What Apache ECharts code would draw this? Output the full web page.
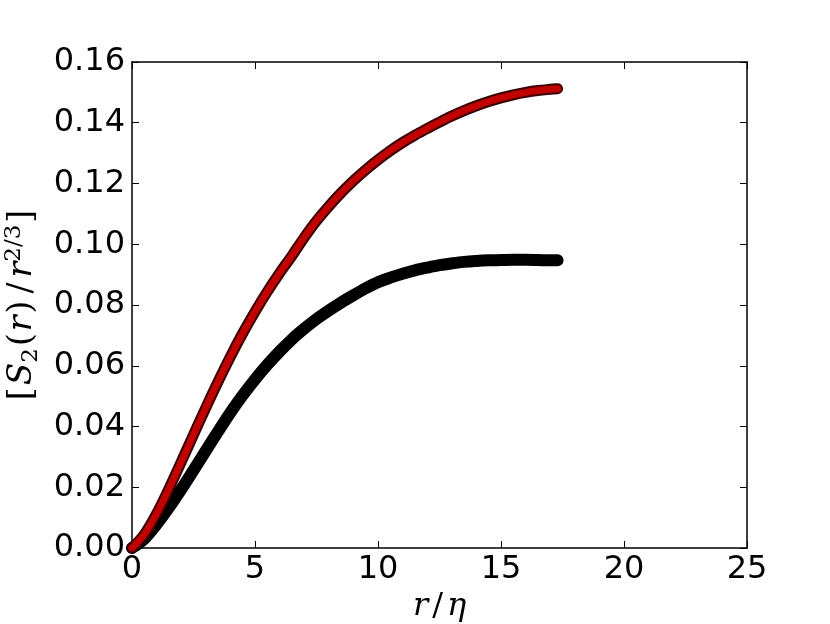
<!DOCTYPE html>
<html>
<head>
<meta charset="utf-8">
<script src="https://cdn.jsdelivr.net/npm/echarts@6/dist/echarts.min.js"></script>
<style>
  html, body { margin: 0; padding: 0; background: #fff; }
  #chart { width: 830px; height: 624px; }
</style>
</head>
<body>
<div id="chart"></div>
<script>
// r/eta values shared by both curves
var rEta = [0, 0.5, 1, 1.5, 2, 2.5, 3, 3.5, 4, 4.5, 5, 5.5, 6, 6.5, 7, 7.5, 8, 8.5,
  9, 9.5, 10, 10.5, 11, 11.5, 12, 12.5, 13, 13.5, 14, 14.5, 15, 15.5, 16, 16.5, 17, 17.3];
// red curve
var redVals = [0, 0.0045, 0.0113, 0.0195, 0.0283, 0.0373, 0.0462, 0.0548, 0.0630, 0.0707,
  0.0778, 0.0844, 0.0905, 0.0962, 0.1022, 0.1077, 0.1125, 0.1169, 0.1209, 0.1245, 0.1278,
  0.1308, 0.1335, 0.1359, 0.1381, 0.1402, 0.1422, 0.1440, 0.1456, 0.1470, 0.1482, 0.1492,
  0.1500, 0.1506, 0.1510, 0.1512];
// black curve
var blackVals = [0, 0.003, 0.0078, 0.0133, 0.0193, 0.0256, 0.0320, 0.0384, 0.0446, 0.0503,
  0.0555, 0.0603, 0.0647, 0.0687, 0.0722, 0.0754, 0.0782, 0.0808, 0.0832, 0.0855, 0.0875,
  0.0890, 0.0903, 0.0914, 0.0923, 0.0931, 0.0937, 0.0942, 0.0945, 0.0947, 0.0948, 0.0949,
  0.0949, 0.0948, 0.0947, 0.0947];

function pairs(xs, ys) {
  var out = [];
  for (var i = 0; i < xs.length; i++) out.push([xs[i], ys[i]]);
  return out;
}

var chart = echarts.init(document.getElementById('chart'));
var labelFont = { fontFamily: 'DejaVu Sans', fontSize: 32, color: '#000' };
var mathFont = 'DejaVu Serif';

function xAx(pos, show) {
  return {
    type: 'value', position: pos, min: 0, max: 25, interval: 5,
    axisLine: { show: true, onZero: false, lineStyle: { color: '#000', width: 1.5 } },
    axisTick: { show: true, inside: true, length: 7, lineStyle: { color: '#000', width: 1 } },
    axisLabel: Object.assign({ show: show, margin: 6 }, labelFont),
    splitLine: { show: false }
  };
}
function yAx(pos, show) {
  return {
    type: 'value', position: pos, min: 0, max: 0.16, interval: 0.02,
    axisLine: { show: true, onZero: false, lineStyle: { color: '#000', width: 1.5 } },
    axisTick: { show: true, inside: true, length: 7, lineStyle: { color: '#000', width: 1 } },
    axisLabel: Object.assign({ show: show, margin: 7, formatter: function (v) { return v.toFixed(2); } }, labelFont),
    splitLine: { show: false }
  };
}

var xMain = xAx('bottom', true);
xMain.name = '{i|r}{n|/}{i|η}';
xMain.nameLocation = 'middle';
xMain.nameGap = 38;
xMain.nameTextStyle = {
  rich: {
    i: { fontFamily: mathFont, fontStyle: 'italic', fontSize: 32, color: '#000' },
    n: { fontFamily: mathFont, fontSize: 32, color: '#000', padding: [0, 4, 0, 4] }
  }
};
var yMain = yAx('left', true);
yMain.name = '{n|[}{i|S}{s|2}{n|(}{i|r}{n|)}{d|/}{i|r}{p|2/3}{n|]}';
yMain.nameLocation = 'middle';
yMain.nameGap = 88;
yMain.nameRotate = 90;
yMain.nameTextStyle = {
  rich: {
    n: { fontFamily: mathFont, fontSize: 33, color: '#000', lineHeight: 40, padding: [0, 2, 0, 2] },
    d: { fontFamily: mathFont, fontSize: 33, color: '#000', lineHeight: 40, padding: [0, 5, 0, 5] },
    i: { fontFamily: mathFont, fontStyle: 'italic', fontSize: 33, color: '#000', lineHeight: 40 },
    s: { fontFamily: mathFont, fontSize: 23, color: '#000', verticalAlign: 'bottom', lineHeight: 40 },
    p: { fontFamily: mathFont, fontSize: 23, color: '#000', verticalAlign: 'top', lineHeight: 40 }
  }
};

var option = {
  backgroundColor: '#fff',
  animation: false,
  grid: { left: 132, right: 83, top: 62, bottom: 76, containLabel: false, outerBoundsMode: 'none' },
  xAxis: [xMain, xAx('top', false)],
  yAxis: [yMain, yAx('right', false)],
  series: [
    {
      type: 'line', data: pairs(rEta, blackVals), smooth: 0.35, symbol: 'none',
      lineStyle: { color: '#000', width: 12, cap: 'round', join: 'round' }, z: 2
    },
    {
      type: 'line', data: pairs(rEta, redVals), smooth: 0.35, symbol: 'none',
      lineStyle: { color: '#3a0000', width: 11, cap: 'round', join: 'round' }, z: 3
    },
    {
      type: 'line', data: pairs(rEta, redVals), smooth: 0.35, symbol: 'none',
      lineStyle: { color: '#c00000', width: 7, cap: 'round', join: 'round' }, z: 4
    }
  ]
};
chart.setOption(option);
</script>
</body>
</html>
